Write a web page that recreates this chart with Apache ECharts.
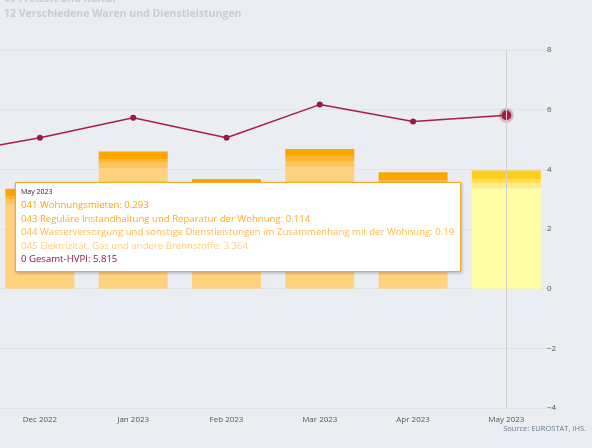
<!DOCTYPE html>
<html><head><meta charset="utf-8">
<script src="https://cdn.jsdelivr.net/npm/echarts@6/dist/echarts.min.js"></script>
<style>html,body{margin:0;padding:0;background:#eaeef3;overflow:hidden;width:592px;height:448px;}#c{position:absolute;left:-100px;top:0;width:692px;height:448px;}</style>
</head><body><div id="c"></div>
<script>
const categories = ['Nov 2022','Dec 2022','Jan 2023','Feb 2023','Mar 2023','Apr 2023','May 2023'];
const s041 = [0.26, 0.24, 0.25, 0.22, 0.26, 0.27, 0.293];
const s043 = [0.12, 0.11, 0.13, 0.10, 0.14, 0.11, 0.114];
const s044 = [0.17, 0.16, 0.18, 0.15, 0.19, 0.17, 0.19];
const s045 = [3.25, 2.84, 4.04, 3.21, 4.09, 3.35, 3.364];
const hvpi = [4.5, 5.06, 5.73, 5.06, 6.17, 5.6, 5.815];
const yTicks = [-4, -2, 0, 2, 4, 6, 8];
const names = ['041 Wohnungsmieten','043 Reguläre Instandhaltung und Reparatur der Wohnung','044 Wasserversorgung und sonstige Dienstleistungen im Zusammenhang mit der Wohnung','045 Elektrizität, Gas und andere Brennstoffe','0 Gesamt-HVPI'];
const colors = ['#ffa500','#ffb733','#ffc55c','#ffd280','#9b1b40'];
const hiColors = ['#ffbb1a','#ffc94a','#ffd873','#fde796'];
const font = 'Open Sans';
function barData(arr, i){
  return arr.map((v,k)=> k===arr.length-1 ? {value:v,itemStyle:{color:hiColors[i]}} : v);
}
const stacks=[s045,s044,s043,s041], idx=[3,2,1,0];
const series = stacks.map((arr,j)=>({
  name:names[idx[j]], type:'bar', stack:'a', barWidth:'74%',
  data:barData(arr, idx[j]), itemStyle:{color:colors[idx[j]]}, silent:true
}));
series.push({name:names[4], type:'line', data:hvpi.map((v,k)=>k===hvpi.length-1?{value:v,symbolSize:9,itemStyle:{borderColor:'rgba(155,27,64,0.25)',borderWidth:5}}:v),
  symbol:'circle', symbolSize:6, lineStyle:{color:colors[4],width:1.5}, itemStyle:{color:colors[4]}, z:5});
const chart = echarts.init(document.getElementById('c'));
chart.setOption({
  backgroundColor:'#eaeef3', animation:false,
  textStyle:{fontFamily:font},
  grid:{left:0,right:39,top:50,bottom:40},
  xAxis:{type:'category',data:categories,axisTick:{show:false},axisLine:{show:false},
    axisLabel:{color:'#555',fontSize:8,fontFamily:font,margin:8},
    axisPointer:{show:true,type:'line',value:'May 2023',status:'show',label:{show:false},lineStyle:{color:'#cfcfcf',width:1,type:'solid'}}},
  yAxis:{type:'value',position:'right',min:-4,max:8,interval:2,
    axisLabel:{color:'#555',fontSize:8,fontFamily:font,margin:-6,align:'left',formatter:v=>v<0?'\u2212'+(-v):v},
    splitLine:{lineStyle:{color:'#dfe3e8'}}},
  tooltip:{trigger:'axis',alwaysShowContent:true,position:[115,182],
    axisPointer:{type:'line',lineStyle:{color:'#cfcfcf',width:1,type:'solid'}},
    backgroundColor:'#fff',borderColor:'#f5ab2a',borderWidth:1.5,padding:[3,6,5,5],
    extraCssText:'box-shadow:1px 1px 3px rgba(0,0,0,0.25);border-radius:0;',
    formatter:function(){
      const v=[s041[6],s043[6],s044[6],s045[6],hvpi[6]];
      let h='<div style="font-family:Open Sans;font-size:7px;color:#223;line-height:12px">May 2023</div>';
      const c=['#ffa500','#ffaa22','#ffb84d','#ffcf80','#8b1a3a'];
      for(let i=0;i<5;i++) h+='<div style="font-family:Open Sans;font-size:9.6px;color:'+c[i]+';line-height:13.5px">'+names[i]+': '+v[i]+'</div>';
      return h;
    }},
  graphic:[
    {type:'text',left:104,top:-6,style:{text:'09 Freizeit und Kultur',fill:'#c9cdd3',font:'bold 10.5px "Open Sans"'}},
    {type:'text',left:104,top:9,style:{text:'12 Verschiedene Waren und Dienstleistungen',fill:'#c9cdd3',font:'bold 10.5px "Open Sans"'}},
    {type:'text',right:6,top:425,style:{text:'Source: EUROSTAT, IHS.',fill:'#6b7a8f',font:'7.5px "Open Sans"'}}
  ],
  series:series
});
chart.dispatchAction({type:'showTip',seriesIndex:4,dataIndex:6});
</script></body></html>
